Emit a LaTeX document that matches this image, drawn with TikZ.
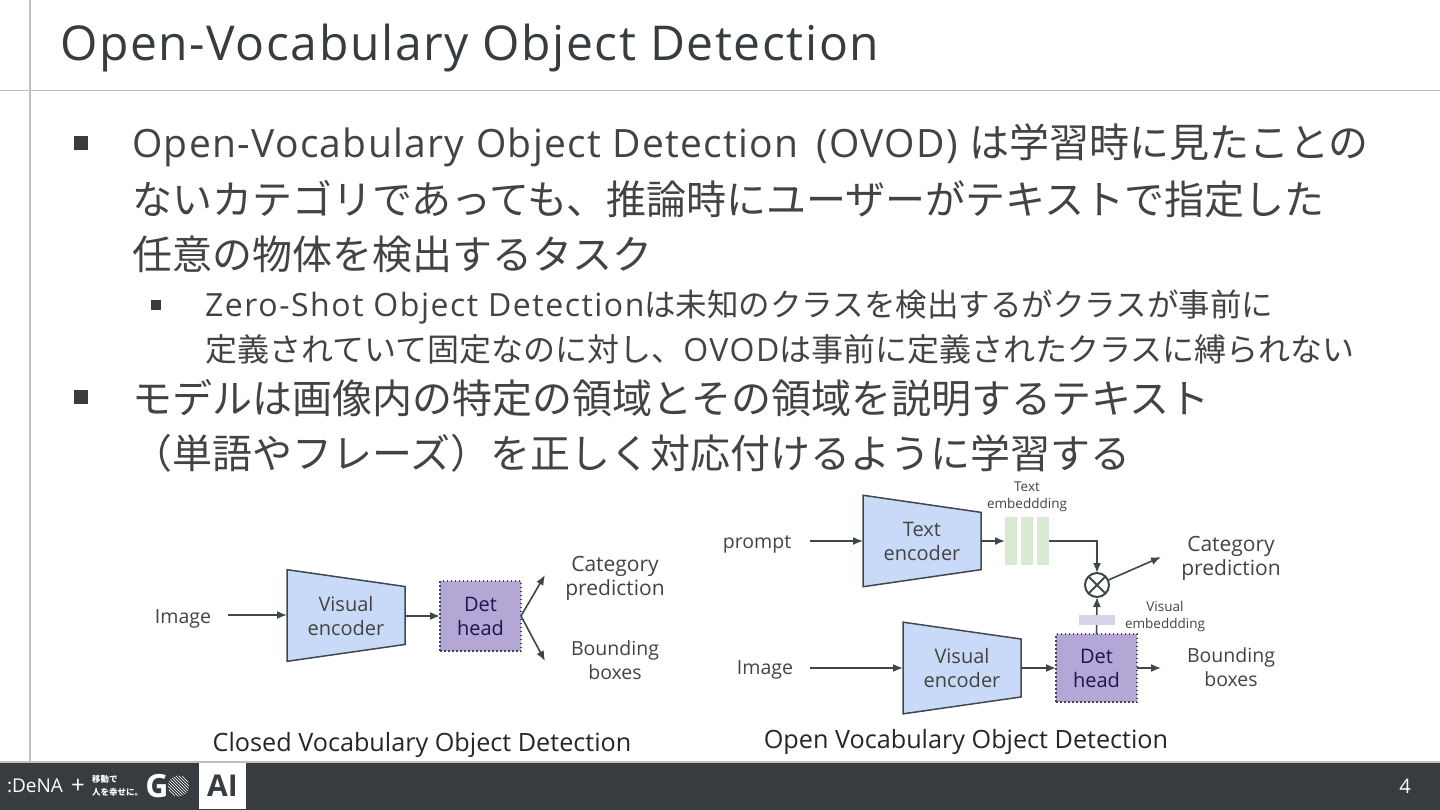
\documentclass[tikz,border=0pt]{standalone}
\usepackage{fontspec}
\setmainfont{Open Sans}
\newfontfamily\jp{Noto Sans CJK JP}
\newfontfamily\titlelat[LetterSpace=3.3]{Open Sans}
\newfontfamily\biglat[LetterSpace=3.4]{Open Sans}
\newfontfamily\sublat[LetterSpace=4.8]{Open Sans}
\newcommand{\fs}[1]{\fontsize{#1}{#1}\selectfont}
\newcommand{\fsl}[2]{\fontsize{#1}{#2}\selectfont}
\usetikzlibrary{shapes,arrows.meta,positioning,patterns}
\definecolor{slidedark}{HTML}{363C3F}
\definecolor{slidetext}{HTML}{434343}
\definecolor{ruleline}{HTML}{BFBFBF}
\definecolor{encblue}{HTML}{C9DAF8}
\definecolor{enclne}{HTML}{3F474B}
\definecolor{dethead}{HTML}{B4A7D6}
\definecolor{detink}{HTML}{20124D}
\definecolor{textemb}{HTML}{D9EAD3}
\definecolor{visemb}{HTML}{D9D2E9}
\tikzstyle{titletext}=[anchor=west, inner sep=0pt, text=slidedark, font=\titlelat\fs{48}]
\tikzstyle{bigline}=[anchor=west, inner sep=0pt, text=slidetext, font=\jp\fs{40}]
\tikzstyle{subline}=[anchor=west, inner sep=0pt, text=slidetext, font=\jp\fs{32}]
\tikzstyle{bigmark}=[rectangle, fill=slidedark, minimum size=14pt, inner sep=0pt]
\tikzstyle{submark}=[rectangle, fill=slidedark, minimum size=10pt, inner sep=0pt]
\tikzstyle{lbl}=[align=center, inner sep=0pt, text=slidetext, font=\fsl{21}{24}]
\tikzstyle{lblsmall}=[align=center, inner sep=0pt, text=slidetext, font=\fsl{19.5}{24}]
\tikzstyle{smalllbl}=[align=center, inner sep=0pt, text=slidetext, font=\fsl{13.5}{17}]
\tikzstyle{caption}=[inner sep=0pt, text=black!85, font=\fs{25.2}]
\tikzstyle{encoder}=[trapezium, draw=enclne, line width=1.5pt, fill=encblue, shape border rotate=270, trapezium stretches=true, trapezium angle=81.5, minimum width=92pt, minimum height=118pt, inner sep=0pt, outer sep=0pt, align=center, text=slidetext, font=\fsl{20}{24}]
\tikzstyle{detblock}=[rectangle, draw=enclne, dash pattern=on 1.5pt off 2.5pt, line width=1.3pt, fill=dethead, minimum width=81pt, inner sep=0pt, outer sep=0pt, align=center, text=detink, font=\fsl{20}{24}]
\tikzstyle{emb}=[rectangle, inner sep=0pt, outer sep=0pt]
\tikzstyle{link}=[-{Latex[length=10pt,width=8pt]}, line width=1.6pt, draw=enclne]
\begin{document}
\begin{tikzpicture}[x=1pt,y=-1pt]
\useasboundingbox (0,0) rectangle (1440,810);

\fill[white] (0,0) rectangle (1440,810);
\draw[ruleline,line width=1.5pt] (30,0) -- (30,762);
\draw[ruleline,line width=1.5pt] (0,90.5) -- (1440,90.5);
\fill[slidedark] (0,762) rectangle (1440,810);
\draw[ruleline,line width=1.5pt] (0,762) -- (1440,762);

\node[titletext](title) at (60,48) {Open-Vocabulary Object Detection};

\node[bigmark](m1) at (81,143) {};
\node[bigline](l1) at (132,145) {{\biglat\fs{39}Open-Vocabulary Object Detection\hspace{6pt} (OVOD) }は学習時に見たことの};
\node[bigline](l2) at (132,199) {ないカテゴリであっても、推論時にユーザーがテキストで指定した};
\node[bigline](l3) at (132,254) {任意の物体を検出するタスク};
\node[submark](m2) at (156,305) {};
\node[subline](l4) at (205,307) {{\sublat Zero-Shot Object Detection}{\fs{31.5}は未知のクラスを検出するがクラスが事前に}};
\node[subline](l5) at (205,349.5) {定義されていて固定なのに対し、{\sublat OVOD}は事前に定義されたクラスに縛られない};
\node[bigmark](m3) at (81,397) {};
\node[bigline](l6) at (132,398) {モデルは画像内の特定の領域とその領域を説明するテキスト};
\node[bigline](l7) at (132,453) {（単語やフレーズ）を正しく対応付けるように学習する};

\node[lblsmall](imga) at (183,619) {Image};
\node[encoder](enca) at (346,615.5) {Visual\\encoder};
\node[detblock,minimum height=70pt](deta) at (480.5,616) {Det\\head};
\node[lbl](cata) at (615,578) {Category\\prediction};
\node[lblsmall](boxa) at (615,660.5) {Bounding\\boxes};
\node[caption](capa) at (422,745) {Closed Vocabulary Object Detection};
\coordinate (a0) at (228,615);
\coordinate (a1) at (545,575);
\coordinate (a2) at (545,661);

\draw[link](a0) -- (enca.west |- a0);
\draw[link](enca.east |- deta) -- (deta.west);
\draw[link](deta.east) -- (a1);
\draw[link](deta.east) -- (a2);

\node[lblsmall](prompt) at (757,544) {prompt};
\node[encoder](enct) at (922,541) {Text\\encoder};
\node[emb,fill=textemb,minimum width=12pt,minimum height=48pt](bar1) at (1011,541) {};
\node[emb,fill=textemb,minimum width=12pt,minimum height=48pt](bar2) at (1027,541) {};
\node[emb,fill=textemb,minimum width=12pt,minimum height=48pt](bar3) at (1043,541) {};
\node[smalllbl](tlab) at (1027,497) {Text\\embeddding};
\node[circle,draw=enclne,line width=2pt,minimum size=24pt,inner sep=0pt,outer sep=0pt,
  path picture={\draw[enclne,line width=2pt] (path picture bounding box.north west) -- (path picture bounding box.south east) (path picture bounding box.north east) -- (path picture bounding box.south west);}](prod) at (1097,585) {};
\node[lbl](catb) at (1231,558.5) {Category\\prediction};
\node[lblsmall](imgb) at (765,670) {Image};
\node[encoder](encv) at (962,668) {Visual\\encoder};
\node[detblock,minimum height=68pt](detb) at (1096.5,668) {Det\\head};
\node[lblsmall](boxb) at (1231,667) {Bounding\\boxes};
\node[smalllbl](vlab) at (1165,616) {Visual\\embeddding};
\node[caption](capb) at (966,742) {Open Vocabulary Object Detection};
\coordinate (b0) at (810,541);
\coordinate (b1) at (810,668);
\coordinate (b2) at (1161,557);
\coordinate (b3) at (1161,668);

\draw[link](b0) -- (enct.west |- b0);
\draw[link](enct.east |- bar1) -- (bar1.west);
\draw[link](bar3.east) -| (prod.north);
\draw[link](detb.north) -- (prod.south);
\node[emb,fill=visemb,minimum width=36pt,minimum height=10pt](vbar) at (1097,620) {};
\draw[link](prod) -- (b2);
\draw[link](b1) -- (encv.west |- b1);
\draw[link](encv.east |- detb) -- (detb.west);
\draw[link](detb.east) -- (b3);

\node[inner sep=0pt,text=white,font=\fs{19}](dena) at (35,786) {:DeNA};
\node[inner sep=0pt,text=white,font=\fs{24}](plus) at (78,786) {+};
\node[inner sep=0pt,text=white,align=left,font=\jp\bfseries\fsl{8.5}{13}](go) at (117.5,786) {移動で\\人を幸せに。};
\node[inner sep=0pt,text=white,font=\bfseries\fs{32}](gee) at (157,786) {G};
\node[circle,pattern=north west lines,pattern color=white,minimum size=21pt,inner sep=0pt](oh) at (178.5,786) {};
\node[rectangle,fill=white,minimum width=47pt,minimum height=46pt,inner sep=0pt,text=slidedark,font=\bfseries\fs{30}](ai) at (222.5,786) {AI};
\node[inner sep=0pt,text=white,font=\fs{20}](page) at (1405,786) {4};

\end{tikzpicture}
\end{document}
